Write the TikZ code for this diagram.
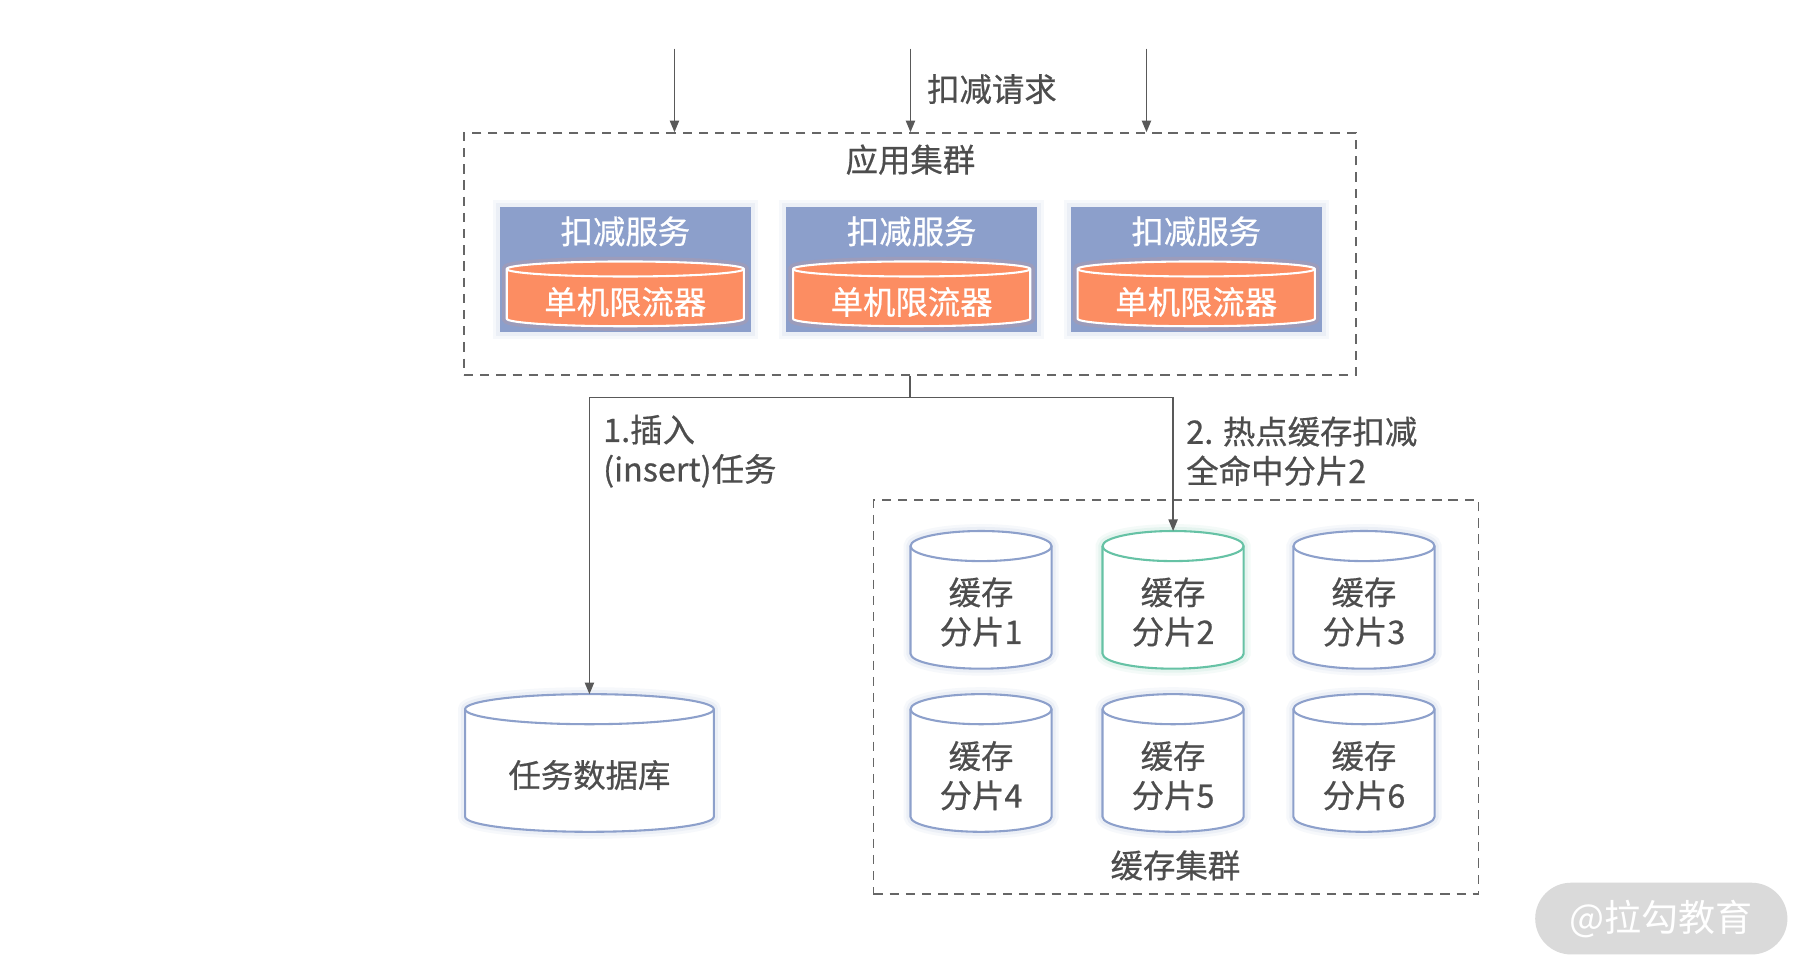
\documentclass[tikz,border=0pt]{standalone}
\usepackage{fontspec}
\setmainfont{Noto Sans CJK SC}[AutoFakeBold=0.6]
\usetikzlibrary{arrows.meta,calc}
\definecolor{txt}{HTML}{4D4D4D}
\definecolor{svcblue}{HTML}{8C9FCB}
\definecolor{lim}{HTML}{FC8D62}
\definecolor{shardc}{HTML}{8DA0CB}
\definecolor{hot}{HTML}{66C2A5}
\definecolor{dashc}{HTML}{666666}
\definecolor{connc}{HTML}{595959}
\definecolor{wmc}{HTML}{DADADA}
\newcommand\drawcyl[8]{%
  \node[inner sep=0, outer sep=0, minimum width=#4*0.5pt, minimum height=#5*0.5pt] (#1) at (#2,#3) {};
  \path[#7, #8] ($(#1.north west)+(0,-#6*0.5pt)$) -- ($(#1.south west)+(0,#6*0.5pt)$)
     arc[start angle=180,end angle=360,x radius=#4*0.25pt,y radius=#6*0.5pt]
     -- ($(#1.north east)+(0,-#6*0.5pt)$)
     arc[start angle=0,end angle=180,x radius=#4*0.25pt,y radius=#6*0.5pt] -- cycle;
  \path[#7, fill=none] ($(#1.north west)+(0,-#6*0.5pt)$)
     arc[start angle=180,end angle=360,x radius=#4*0.25pt,y radius=#6*0.5pt];
}
\begin{document}
\begin{tikzpicture}[x=0.5pt,y=-0.5pt,
  font=\fontsize{14}{17}\selectfont\bfseries,
  lbl/.style={text=txt, inner sep=0, align=center},
  wlbl/.style={text=white, inner sep=0, align=center},
  cluster/.style={draw=dashc, line width=0.75pt, dash pattern=on 4pt off 3pt, inner sep=0},
  svcbox/.style={fill=svcblue, inner sep=0, minimum width=108.5pt, minimum height=54pt},
  limcyl/.style={draw=white, fill=lim, line width=0.9pt},
  shardcyl/.style={draw=shardc, fill=white, line width=0.9pt},
  hotcyl/.style={draw=hot, fill=white, line width=0.9pt},
  glowb/.style={preaction={draw=shardc, line width=6pt, draw opacity=0.07},
                preaction={draw=shardc, line width=3.5pt, draw opacity=0.10}},
  glowg/.style={preaction={draw=hot, line width=6pt, draw opacity=0.07},
                preaction={draw=hot, line width=3.5pt, draw opacity=0.10}},
  glowo/.style={preaction={draw=lim, line width=4pt, draw opacity=0.15}},
  link/.style={draw=connc, line width=0.6pt},
  conn/.style={draw=connc, line width=0.6pt, -{Triangle[length=5pt,width=4pt]}}]
\fill[white] (0,0) rectangle (1568,846);
\useasboundingbox (0,0) rectangle (1568,846);

% application cluster
\node[cluster, minimum width=385.5pt, minimum height=104.5pt] (app) at (786.5,219.5) {};
\node[lbl] (appt) at (787,138) {应用集群};

\foreach \i/\cx in {1/540.5, 2/788, 3/1034} {
  \node[svcbox, glowb] (v\i) at (\cx,233) {};
  \node[wlbl] (v\i-t) at (\cx,200) {扣减服务};
  \drawcyl{l\i}{\cx}{254}{205}{56}{6.5}{limcyl}{glowo}
  \node[wlbl] (l\i-t) at (\cx,261) {单机限流器};
}

% incoming requests
\coordinate (in1) at (583,42);
\coordinate (in2) at (787,42);
\coordinate (in3) at (991,42);
\foreach \i in {1,2,3} { \draw[conn] (in\i) -- (in\i |- app.north); }
\node[lbl, anchor=west] (req) at (801,77) {扣减请求};

% cache cluster
\node[cluster, minimum width=261.5pt, minimum height=170.5pt] (cache) at (1016.5,602.5) {};
\node[lbl] (cachet) at (1016,748) {缓存集群};

\drawcyl{s1}{848}{518.5}{122}{119}{13}{shardcyl}{glowb}
\drawcyl{s2}{1014}{518.5}{122}{119}{13}{hotcyl}{glowg}
\drawcyl{s3}{1179}{518.5}{122}{119}{13}{shardcyl}{glowb}
\drawcyl{s4}{848}{659.5}{122}{119}{13}{shardcyl}{glowb}
\drawcyl{s5}{1014}{659.5}{122}{119}{13}{shardcyl}{glowb}
\drawcyl{s6}{1179}{659.5}{122}{119}{13}{shardcyl}{glowb}
\node[lbl] (s1-t) at (848,529) {缓存\\分片1};
\node[lbl] (s2-t) at (1014,529) {缓存\\分片2};
\node[lbl] (s3-t) at (1179,529) {缓存\\分片3};
\node[lbl] (s4-t) at (848,670.5) {缓存\\分片4};
\node[lbl] (s5-t) at (1014,670.5) {缓存\\分片5};
\node[lbl] (s6-t) at (1179,670.5) {缓存\\分片6};

% task database
\drawcyl{db}{509.5}{659.5}{215}{119}{13}{shardcyl}{glowb}
\node[lbl] (db-t) at (509.5,670) {任务数据库};

% connectors
\coordinate (j) at ($(app.south)+(0,19)$);
\draw[link] (app.south) -- (j);
\draw[conn] (j) -| (db.north);
\draw[conn] (j) -| (s2.north);
\node[lbl, anchor=west, align=left] (lab1) at (521,390) {1.插入\\(insert)任务};
\node[lbl, anchor=west, align=left] (lab2) at (1025,390) {2. 热点缓存扣减\\全命中分片2};

% watermark
\node[fill=wmc, rounded corners=15.5pt, minimum width=109pt, minimum height=31pt, inner sep=0,
      text=white, font=\fontsize{16}{19}\selectfont\mdseries] (wm) at (1436,794) {@拉勾教育};
\end{tikzpicture}
\end{document}
